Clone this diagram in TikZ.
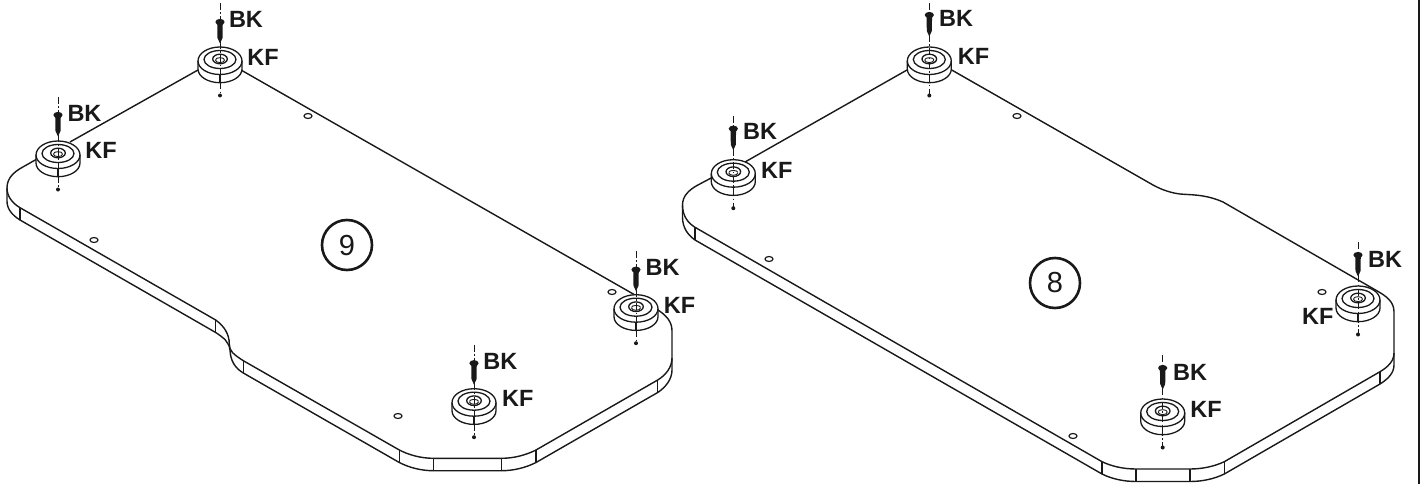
\documentclass[tikz,border=0pt]{standalone}
\usepackage{fontspec}
\newfontfamily\diafont{Liberation Sans}
\definecolor{ink}{gray}{0.1}
\tikzset{
  plate/.style={draw=ink,line width=1.4pt,line join=round},
  footline/.style={draw=ink,line width=1.3pt},
  axis/.style={draw=ink,line width=0.8pt,dash pattern=on 7pt off 2.5pt on 1.5pt off 2.5pt},
  lbl/.style={font=\diafont\bfseries\fontsize{23.5}{24}\selectfont,text=ink,inner sep=0pt},
  num/.style={font=\diafont\fontsize{29}{30}\selectfont,text=ink,inner sep=0pt},
  ring/.style={draw=ink,line width=2.6pt,circle,minimum size=50pt,inner sep=0pt},
  hole/.style={draw=ink,line width=1.2pt}
}
% #1 x, #2 y, #3 screw head offset (y axis points down, so angles run clockwise)
\newcommand{\footpart}[3]{%
  \begin{scope}[shift={(#1,#2)}]
    \draw[footline,fill=white] (-22,2) -- (-22,10) arc[start angle=180,end angle=0,x radius=22,y radius=13.7] -- (22,2) arc[start angle=0,end angle=-180,x radius=22,y radius=14] -- cycle;
    \draw[footline] (-22,2) arc[start angle=180,end angle=0,x radius=22,y radius=13.5];
    \draw[footline] (0,0.5) ellipse[x radius=16,y radius=9];
    \draw[footline] (0,0) ellipse[x radius=7.3,y radius=4.8];
    \draw[draw=ink,line width=0.9pt] (-4.5,1.2) arc[start angle=180,end angle=0,x radius=4.5,y radius=2.4];
    \draw[draw=ink,line width=0.9pt] (-4.5,0.7) arc[start angle=180,end angle=360,x radius=4.5,y radius=2];
    \draw[footline] (0,15.5) -- (0,23.5);
    \draw[axis] (0,-56) -- (0,#3);
    \draw[axis] (0,#3+20) -- (0,35);
    \fill[ink] (0,36.5) circle[radius=2];
    \fill[ink] (0,#3) ellipse[x radius=4.6,y radius=3.1];
    \fill[ink] (-2.8,#3) -- (2.8,#3) -- (2.5,#3+16) -- (0,#3+21.5) -- (-2.5,#3+16) -- cycle;
  \end{scope}}
\newcommand{\platehole}[2]{\draw[hole] (#1,#2) ellipse[x radius=4,y radius=2.5];}
\begin{document}
\begin{tikzpicture}[x=1pt,y=-1pt]
\useasboundingbox (0,0) rectangle (1420,484);
\fill[white] (0,0) rectangle (1420,484);
\draw[draw=ink,line width=1.6pt] (1418.8,0) -- (1418.8,484);

% ---------- left plate (9)
\draw[plate] (198,70) -- (70,142);
\draw[plate] (241,70) -- (635,295);
\draw[plate] (658,310) .. controls (667,316) and (672,322) .. (672,331) -- (672,358)
  .. controls (672,367) and (666,375) .. (657.7,380) -- (536,450)
  .. controls (526,455) and (514,458.3) .. (501.7,458.3) -- (433.3,458.3)
  .. controls (421,458.3) and (409,455) .. (399.3,450) -- (243.3,360.7)
  .. controls (233,354) and (229.3,351) .. (229.3,344)
  .. controls (229.3,334) and (224,326) .. (215.7,320) -- (20,207.7)
  .. controls (12,203) and (7,196) .. (7,188)
  .. controls (7,178) and (14,172) .. (22,167.5) -- (37,159);
\draw[plate] (7,188) -- (7,201) .. controls (7,209) and (12,215) .. (20,220)
  -- (215.7,332.5) .. controls (224,338) and (229,342) .. (230,350)
  .. controls (230.5,361) and (235,368) .. (243.3,373) -- (399.3,462.5)
  .. controls (409,467.5) and (421,470.7) .. (433.3,470.7) -- (501.7,470.7)
  .. controls (514,470.7) and (526,467.5) .. (536,462.5) -- (657.7,392.5)
  .. controls (666,387) and (672,379) .. (672,370) -- (672,358);
\draw[plate] (20,207.7) -- (20,220) (215.7,320) -- (215.7,332.5) (243.3,360.7) -- (243.3,373)
  (399.3,450) -- (399.3,462.5) (433.3,458.3) -- (433.3,470.7) (501.7,458.3) -- (501.7,470.7)
  (536,450) -- (536,462.5) (657.7,380) -- (657.7,392.5);
\platehole{308}{116}\platehole{94}{240}\platehole{612}{292}\platehole{398}{416}
\footpart{220}{59}{-37}
\footpart{58}{153}{-38}
\footpart{636}{306.7}{-37}
\footpart{474}{400.7}{-37.5}
\node[lbl] (bk1) at (246,19.5) {BK};
\node[lbl] (kf1) at (263,57) {KF};
\node[lbl] (bk2) at (84.5,113) {BK};
\node[lbl] (kf2) at (101,150.5) {KF};
\node[lbl] (bk3) at (662.7,267.7) {BK};
\node[lbl] (kf3) at (679.5,305) {KF};
\node[lbl] (bk4) at (500.3,361) {BK};
\node[lbl] (kf4) at (517.7,398) {KF};
\node[ring] (c9) at (347,245) {};
\node[num] (n9) at (347,246) {9};

% ---------- right plate (8)
\draw[plate] (907,70) -- (745,162);
\draw[plate] (951.7,70) -- (1153,185)
  .. controls (1163,190.5) and (1172,193) .. (1180,194)
  .. controls (1190,195) and (1205,194) .. (1223,202)
  -- (1376.7,290.7) .. controls (1387,296.5) and (1394,302) .. (1394,312) -- (1394,353)
  .. controls (1394,361) and (1388,367) .. (1380,371.7) -- (1224.3,461.7)
  .. controls (1214,466.5) and (1202,469) .. (1190,469) -- (1136,469)
  .. controls (1124,469) and (1112,466.5) .. (1102,461.7) -- (695,227.3)
  .. controls (688,223) and (682.5,216) .. (682.5,205)
  .. controls (682.5,196) and (689,190) .. (697,185.5) -- (713,177);
\draw[plate] (682.5,205) -- (682.5,217) .. controls (682.5,228) and (688,235) .. (695,240)
  -- (1102,474) .. controls (1112,479) and (1124,481.5) .. (1136,481.5) -- (1190,481.5)
  .. controls (1202,481.5) and (1214,479) .. (1224.3,474) -- (1380,384)
  .. controls (1388,379) and (1394,373) .. (1394,365) -- (1394,353);
\draw[plate] (695,227.3) -- (695,240) (1102,461.7) -- (1102,474) (1136,469) -- (1136,481.5)
  (1190,469) -- (1190,481.5) (1224.3,461.7) -- (1224.3,474) (1380,371.7) -- (1380,384);
\platehole{1017}{116}\platehole{769}{259}\platehole{1322}{292}\platehole{1073}{436}
\footpart{929.3}{59}{-44}
\footpart{733.3}{171.7}{-43}
\footpart{1358}{298}{-43}
\footpart{1162.7}{411}{-43}
\node[lbl] (bk5) at (956,18.7) {BK};
\node[lbl] (kf5) at (973.5,56.7) {KF};
\node[lbl] (bk6) at (760,131) {BK};
\node[lbl] (kf6) at (776.7,170) {KF};
\node[lbl] (bk7) at (1385,259) {BK};
\node[lbl] (kf7) at (1317.7,316.7) {KF};
\node[lbl] (bk8) at (1190,372) {BK};
\node[lbl] (kf8) at (1206,409) {KF};
\node[ring] (c8) at (1055,283) {};
\node[num] (n8) at (1055,283) {8};
\end{tikzpicture}
\end{document}
